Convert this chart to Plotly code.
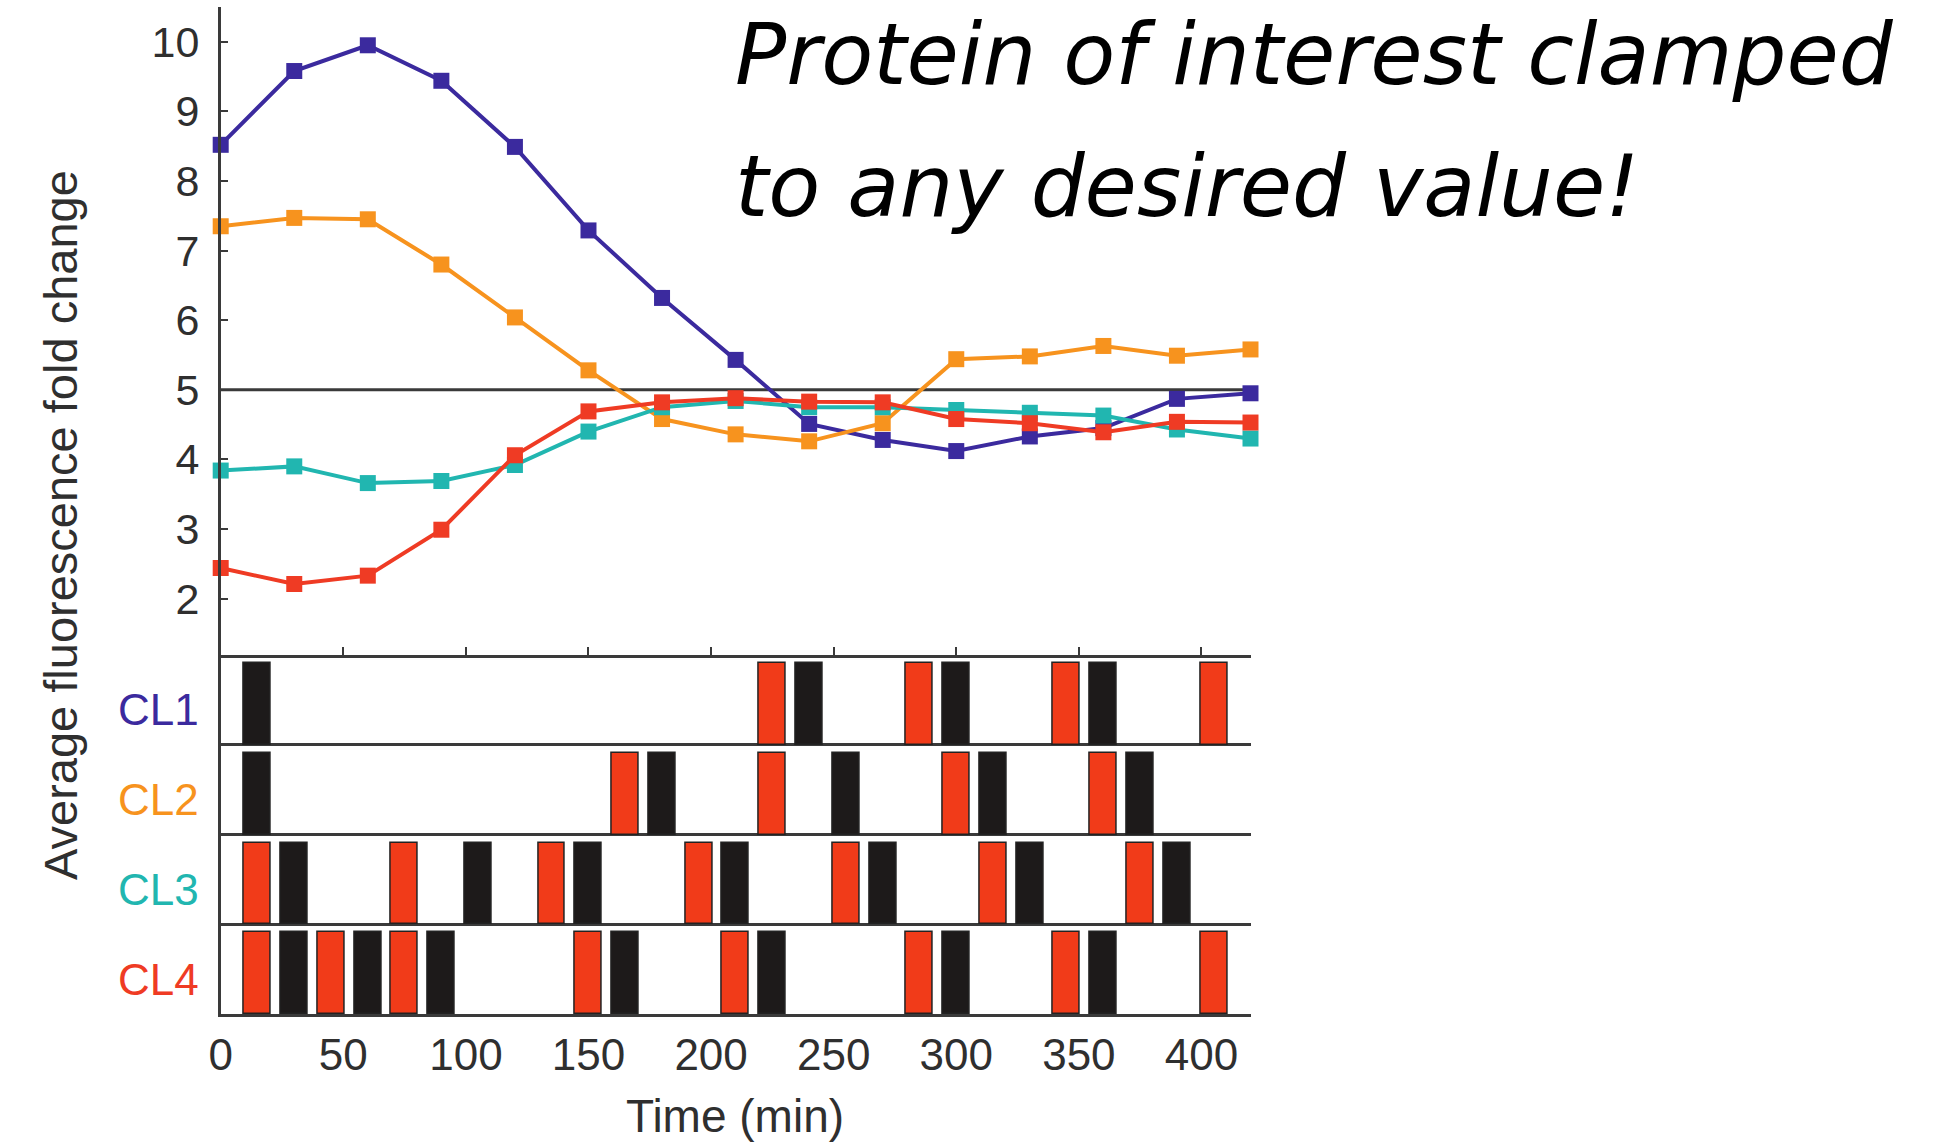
import plotly.graph_objects as go

W, H = 1951, 1146

# ---------------- data ----------------
time_min = [0, 30, 60, 90, 120, 150, 180, 210, 240, 270, 300, 330, 360, 390, 420]
cl1 = [8.52, 9.58, 9.95, 9.44, 8.49, 7.29, 6.32, 5.43, 4.51, 4.28, 4.12, 4.33, 4.45, 4.87, 4.95]
cl2 = [7.35, 7.47, 7.45, 6.80, 6.04, 5.28, 4.58, 4.36, 4.26, 4.52, 5.44, 5.48, 5.63, 5.49, 5.58]
cl3 = [3.84, 3.90, 3.66, 3.69, 3.92, 4.40, 4.75, 4.84, 4.75, 4.75, 4.71, 4.67, 4.63, 4.43, 4.30]
cl4 = [2.44, 2.21, 2.33, 2.99, 4.06, 4.69, 4.82, 4.88, 4.83, 4.82, 4.58, 4.52, 4.39, 4.54, 4.53]
target_value = 5

series_names = ["CL1", "CL2", "CL3", "CL4"]
series_colors = ["#3b2a9e", "#f7931e", "#21b6b0", "#ef3b24"]

# light pulse start times (min): red and black pulses for each cell line
red_pulses = {
    "CL1": [220, 280, 340, 400],
    "CL2": [160, 220, 295, 355],
    "CL3": [10, 70, 130, 190, 250, 310, 370],
    "CL4": [10, 40, 70, 145, 205, 280, 340, 400],
}
black_pulses = {
    "CL1": [10, 235, 295, 355],
    "CL2": [10, 175, 250, 310, 370],
    "CL3": [25, 100, 145, 205, 265, 325, 385],
    "CL4": [25, 55, 85, 160, 220, 295, 355],
}
pulse_duration = 11

x_ticks = [0, 50, 100, 150, 200, 250, 300, 350, 400]
y_ticks = [2, 3, 4, 5, 6, 7, 8, 9, 10]

# ---------------- layout helpers ----------------
def px_x(p):
    return p / W

def px_y(p):
    return 1 - p / H

axis_color = "#3a3a3a"
text_color = "#2f2f2f"
sans = "Liberation Sans, Arial, sans-serif"

x_dom = [px_x(220.7), px_x(1250.5)]
top_dom = [px_y(655), px_y(7)]
bar_dom = [px_y(1014), px_y(655)]

fig = go.Figure()

fig.add_shape(type="line", xref="x", yref="y", x0=0, x1=420,
              y0=target_value, y1=target_value,
              line=dict(color=axis_color, width=3), layer="below")

# line traces
for name, vals, col in zip(series_names, [cl1, cl2, cl3, cl4], series_colors):
    fig.add_trace(go.Scatter(
        x=time_min, y=vals, mode="lines+markers", name=name,
        line=dict(color=col, width=4),
        marker=dict(symbol="square", size=16, color=col),
        xaxis="x", yaxis="y", showlegend=False, cliponaxis=False,
    ))

# pulse bars
n_rows = len(series_names)
for i, name in enumerate(series_names):
    base = n_rows - 1 - i
    for times, col in [(red_pulses[name], "#f13b19"), (black_pulses[name], "#1d1a1a")]:
        fig.add_trace(go.Bar(
            x=[t + 5 for t in times],
            y=[0.91] * len(times),
            base=[base] * len(times),
            width=pulse_duration,
            marker=dict(color=col, line=dict(color="#222222", width=1.5)),
            xaxis="x2", yaxis="y2", showlegend=False,
        ))

annotations = []
for i, (name, col) in enumerate(zip(series_names, series_colors)):
    base = n_rows - 1 - i
    annotations.append(dict(
        text=name, xref="paper", yref="y2", x=px_x(158), y=base + 0.39,
        xanchor="center", yanchor="middle", showarrow=False,
        font=dict(family=sans, size=44, color=col),
    ))

annotations.append(dict(
    text="Average fluorescence fold change", xref="paper", yref="paper",
    x=px_x(60), y=px_y(525), textangle=-90, showarrow=False,
    xanchor="center", yanchor="middle",
    font=dict(family=sans, size=47, color=text_color),
))
annotations.append(dict(
    text="Time (min)", xref="paper", yref="paper",
    x=px_x(735), y=px_y(1116), showarrow=False,
    xanchor="center", yanchor="middle",
    font=dict(family=sans, size=46, color=text_color),
))

title_font = dict(family="DejaVu Sans, sans-serif", size=85, color="#000000", style="italic")
annotations.append(dict(
    text="Protein of interest clamped", xref="paper", yref="paper",
    x=px_x(733), y=px_y(55), showarrow=False, xanchor="left", yanchor="middle",
    font=title_font,
))
annotations.append(dict(
    text="to any desired value!", xref="paper", yref="paper",
    x=px_x(733), y=px_y(186), showarrow=False, xanchor="left", yanchor="middle",
    font=title_font,
))

fig.update_layout(
    width=W, height=H,
    margin=dict(l=0, r=0, t=0, b=0, autoexpand=False),
    paper_bgcolor="white", plot_bgcolor="white",
    barmode="overlay", bargap=0,
    annotations=annotations,
    xaxis=dict(domain=x_dom, range=[0, 420], anchor="y", automargin=False,
               showline=True, linecolor=axis_color, linewidth=2.5,
               ticks="inside", ticklen=8, tickwidth=2, tickcolor=axis_color,
               tickvals=x_ticks, showticklabels=False,
               showgrid=False, zeroline=False),
    yaxis=dict(domain=top_dom, range=[1.19, 10.5], anchor="x", automargin=False,
               showline=True, linecolor=axis_color, linewidth=2.5,
               ticks="inside", ticklen=8, tickwidth=2, tickcolor=axis_color,
               tickvals=y_ticks, ticklabelstandoff=10,
               tickfont=dict(family=sans, size=43, color=text_color),
               showgrid=False, zeroline=False),
    xaxis2=dict(domain=x_dom, range=[0, 420], anchor="y2", automargin=False,
                showline=True, linecolor=axis_color, linewidth=2.5,
                ticks="", tickvals=x_ticks, ticklabelstandoff=0,
                tickfont=dict(family=sans, size=44, color=text_color),
                showgrid=False, zeroline=False),
    yaxis2=dict(domain=bar_dom, range=[0, 4], anchor="x2", automargin=False,
                showline=True, linecolor=axis_color, linewidth=2.5,
                ticks="", tickvals=[0, 1, 2, 3, 4], showticklabels=False,
                showgrid=True, gridcolor=axis_color, gridwidth=2.5,
                zeroline=False),
)

fig.write_html("out.html")
